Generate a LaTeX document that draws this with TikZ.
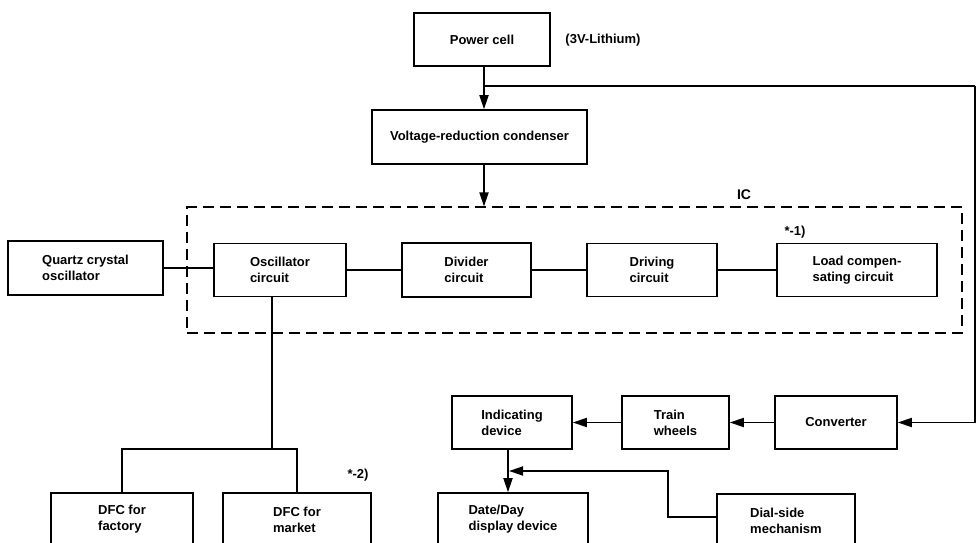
\documentclass[tikz,border=0pt]{standalone}
\usepackage{fontspec}
\setmainfont{Liberation Sans}
\usetikzlibrary{arrows.meta}
\begin{document}
\begin{tikzpicture}[x=1pt,y=-1pt,
  box/.style={draw,line width=1.6pt,rectangle,inner sep=0pt,align=left,
    font=\fontsize{13}{16}\selectfont\bfseries},
  lbl/.style={inner sep=0pt,font=\fontsize{13}{16}\selectfont\bfseries},
  wire/.style={line width=1.8pt},
  arr/.style={line width=1.8pt,-{Triangle[length=14pt,width=9pt]}},
  ic/.style={draw,line width=1.6pt,dash pattern=on 11pt off 6pt,rectangle,inner sep=0pt}]
\useasboundingbox (0,0) rectangle (978,543);
\clip (0,0) rectangle (978,543);
\fill[white] (0,0) rectangle (978,543);
% IC dashed frame
\node[ic,minimum width=775pt,minimum height=125.5pt] (icb) at (574.5,270) {};
\node[lbl,font=\fontsize{14}{16}\selectfont\bfseries] (iclbl) at (744,195) {IC};
% boxes
\node[box,minimum width=136pt,minimum height=53pt] (pc) at (482,39.5) {Power cell};
\node[lbl] (lith) at (603,40) {(3V-Lithium)};
\node[box,minimum width=215pt,minimum height=54pt] (vr) at (479.5,137) {Voltage-reduction condenser};
\node[box,minimum width=155pt,minimum height=54pt] (qc) at (85.5,268) {Quartz crystal\\oscillator};
\node[box,minimum width=132pt,minimum height=53pt] (osc) at (280,270) {Oscillator\\circuit};
\node[box,minimum width=129pt,minimum height=54pt] (div) at (466.5,270) {Divider\\circuit};
\node[box,minimum width=130pt,minimum height=53pt] (drv) at (652,270) {Driving\\circuit};
\node[box,minimum width=160pt,minimum height=53pt] (load) at (857,270) {Load compen-\\sating circuit};
\node[lbl] (n1) at (795,232) {*-1)};
\node[box,minimum width=120pt,minimum height=53pt] (ind) at (512,422.5) {Indicating\\device};
\node[box,minimum width=107pt,minimum height=53pt] (tw) at (675.5,422.5) {Train\\wheels};
\node[box,minimum width=122pt,minimum height=53pt] (conv) at (836,422.5) {Converter};
\node[box,minimum width=142pt,minimum height=53pt] (dfc1) at (122,519.5) {DFC for\\factory};
\node[box,minimum width=148pt,minimum height=53pt] (dfc2) at (297,519.5) {DFC for\\market};
\node[lbl] (n2) at (358,475) {*-2)};
\node[box,minimum width=150pt,minimum height=53pt] (date) at (513,519.5) {Date/Day\\display device};
\node[box,minimum width=138pt,minimum height=53pt] (dial) at (786,520.5) {Dial-side\\mechanism};
% connectors
\coordinate (vx) at (484,0);
\coordinate (br) at (484,86);
\coordinate (rc) at (975,86);
\coordinate (hy) at (0,270);
\draw[arr] (pc.south -| vx) -- (vr.north -| vx);
\draw[wire] (br) -- (rc);
\draw[arr] (rc) |- (conv.east);
\draw[arr] (vr.south -| vx) -- (icb.north -| vx);
\draw[wire] (qc.east) -- (qc.east -| osc.west);
\draw[wire] (osc.east) -- (div.west);
\draw[wire] (div.east) -- (drv.west);
\draw[wire] (drv.east) -- (load.west);
\draw[arr] (conv.west) -- (tw.east);
\draw[arr] (tw.west) -- (ind.east);
\coordinate (j) at (272,449);
\draw[wire] (osc.south -| j) -- (j);
\draw[wire] (dfc1.north) |- (j) -| (dfc2.north);
\coordinate (dx) at (508,0);
\draw[arr] (ind.south -| dx) -- (date.north -| dx);
\coordinate (d1) at (668,517);
\coordinate (d2) at (668,471);
\coordinate (d3) at (509,471);
\draw[arr] (dial.west |- d1) -- (d1) -- (d2) -- (d3);
\end{tikzpicture}
\end{document}
